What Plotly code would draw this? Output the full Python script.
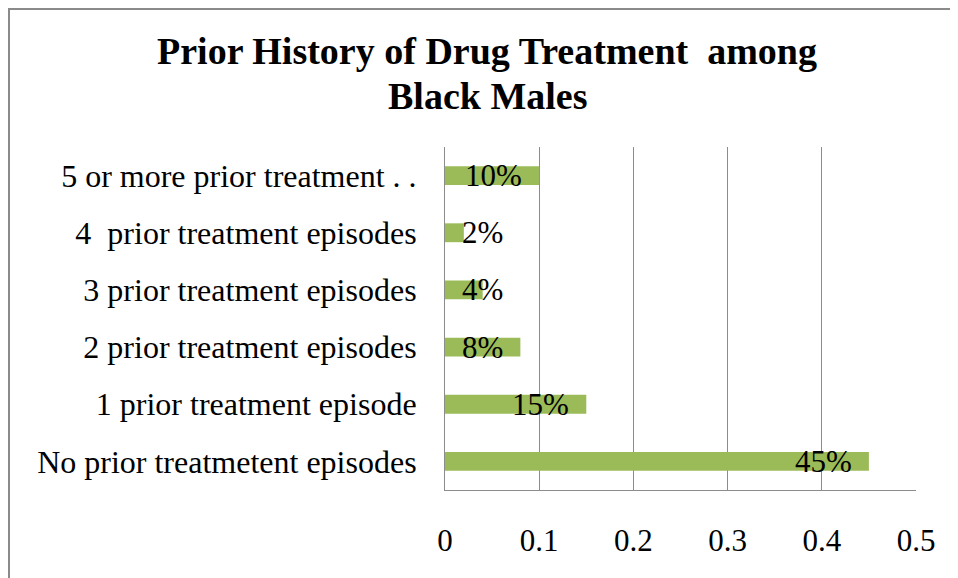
import plotly.graph_objects as go

categories = [
    "No prior treatmetent episodes",
    "1 prior treatment episode",
    "2 prior treatment episodes",
    "3 prior treatment episodes",
    "4  prior treatment episodes",
    "5 or more prior treatment . .",
]
values = [0.45, 0.15, 0.08, 0.04, 0.02, 0.10]
value_labels = ["45%", "15%", "8%", "4%", "2%", "10%"]
x_ticks = [0, 0.1, 0.2, 0.3, 0.4, 0.5]
x_tick_labels = ["0", "0.1", "0.2", "0.3", "0.4", "0.5"]
title_lines = ["Prior History of Drug Treatment  among", "Black Males"]

SERIF = "Liberation Serif, Times New Roman, serif"
GRID = "#8c8c8c"

fig = go.Figure()
fig.add_trace(go.Bar(
    y=categories, x=values, orientation="h",
    marker=dict(color="#9BBB59", line=dict(width=0)),
    hoverinfo="skip",
))

for cat, v, lab in zip(categories, values, value_labels):
    if v >= 0.08:
        fig.add_annotation(x=v, y=cat, text=lab, showarrow=False,
                           xanchor="right", xshift=-15, yanchor="middle",
                           font=dict(family=SERIF, size=31, color="#000"))
    else:
        fig.add_annotation(x=0, y=cat, text=lab, showarrow=False,
                           xanchor="left", xshift=15, yanchor="middle",
                           font=dict(family=SERIF, size=31, color="#000"))

W, H = 958, 578
ML, MR, MT, MB = 437, 50, 139, 96
pw, ph = W - ML - MR, H - MT - MB

# title lines
for i, line in enumerate(title_lines):
    fig.add_annotation(xref="paper", yref="paper",
                       x=(479 - ML) / pw, y=1 + (MT - (20 + 45 * i)) / ph,
                       text="<b>%s</b>" % line, showarrow=False,
                       xanchor="center", yanchor="top",
                       font=dict(family=SERIF, size=38, color="#000"))

# outer chart frame (extends past right / bottom edge of the view)
fig.add_shape(type="rect", xref="paper", yref="paper",
              x0=(1 - ML) / pw, x1=(W + 20 - ML) / pw,
              y0=-(H + 20 - MT - ph) / ph, y1=1 + (MT - 1) / ph,
              line=dict(color="#8a8a8a", width=2), fillcolor="rgba(0,0,0,0)",
              layer="below")

fig.update_layout(
    width=W, height=H,
    margin=dict(l=ML, r=MR, t=MT, b=MB, autoexpand=False),
    paper_bgcolor="white", plot_bgcolor="white",
    showlegend=False,
    bargap=0.67,
    xaxis=dict(range=[0, 0.5], tickvals=x_ticks, ticktext=x_tick_labels,
               showgrid=True, gridcolor=GRID, gridwidth=1,
               showline=True, linecolor=GRID, linewidth=1,
               zeroline=False, ticks="", ticklabelstandoff=23,
               tickfont=dict(family=SERIF, size=31, color="#000")),
    yaxis=dict(categoryorder="array", categoryarray=categories,
               showgrid=False, showline=True, linecolor=GRID, linewidth=1,
               zeroline=False, ticks="", ticklabelstandoff=21,
               tickfont=dict(family=SERIF, size=32, color="#000")),
)

fig.write_html("out.html")
